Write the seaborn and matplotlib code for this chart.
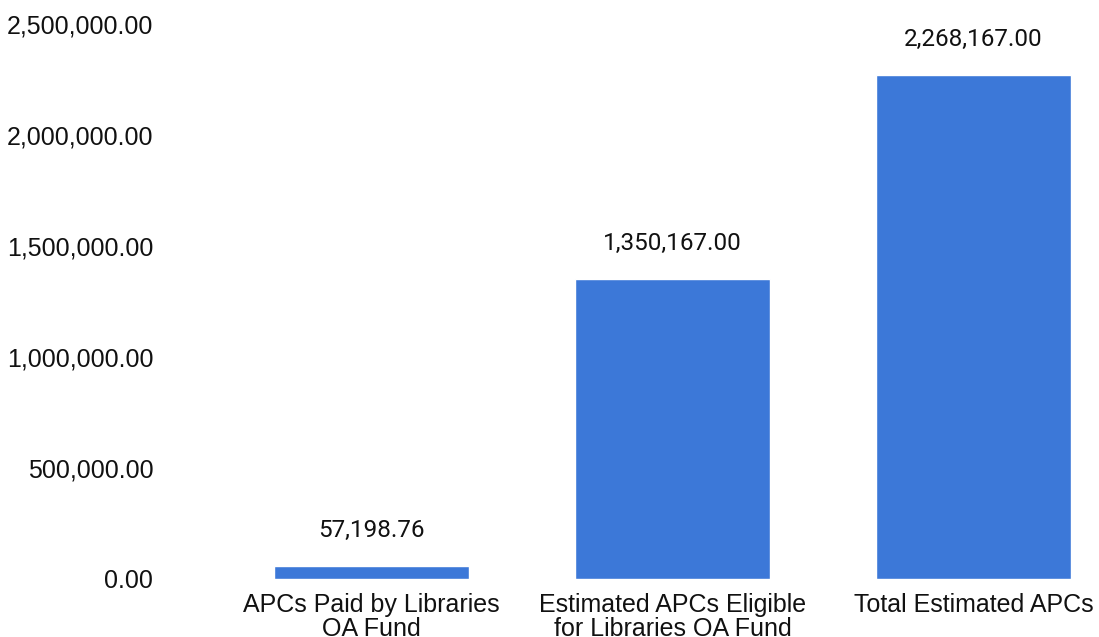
import matplotlib
matplotlib.use("Agg")
import matplotlib.pyplot as plt
import seaborn as sns
import pandas as pd
from matplotlib.ticker import FuncFormatter

categories = ["APCs Paid by Libraries\nOA Fund",
              "Estimated APCs Eligible\nfor Libraries OA Fund",
              "Total Estimated APCs"]
values = [57198.76, 1350167.00, 2268167.00]
yticks = [0, 500000, 1000000, 1500000, 2000000, 2500000]

sns.set_theme(style="white")
plt.rcParams['font.family'] = ['Liberation Sans', 'DejaVu Sans']

df = pd.DataFrame({"category": categories, "value": values})

W, H = 1099, 637
fig = plt.figure(figsize=(W / 100, H / 100), dpi=100)
# axes placed in pixel terms: left 170, right 1099, bottom 579, top 24
ax = fig.add_axes([170 / W, (H - 579) / H, (W - 170) / W, (579 - 24) / H])

sns.barplot(data=df, x="category", y="value", color="#3c78d8",
            width=0.648, saturation=1, ax=ax)

# bar centres at 371.5 px with 301 px spacing
ax.set_xlim((170 - 371.5) / 301, (W - 371.5) / 301)
ax.set_ylim(0, 2500000)
ax.set_yticks(yticks)
ax.yaxis.set_major_formatter(FuncFormatter(lambda v, p: "{:,.2f}".format(v)))

for i, v in enumerate(values):
    ax.annotate("{:,.2f}".format(v), (i, v), xytext=(0, 21),
                textcoords="offset points", ha="center", va="baseline",
                fontsize=17.5, family=["Roboto", "DejaVu Sans"], color="#111111")

ax.tick_params(axis="y", labelsize=18, length=0, pad=12, labelcolor="#111111")
ax.tick_params(axis="x", labelsize=18, length=0, pad=10, labelcolor="#111111")
for lab in ax.get_xticklabels():
    lab.set_linespacing(1.0)

ax.set_xlabel("")
ax.set_ylabel("")
sns.despine(ax=ax, left=True, bottom=True)
ax.grid(False)

fig.savefig("out.png", dpi=100)
